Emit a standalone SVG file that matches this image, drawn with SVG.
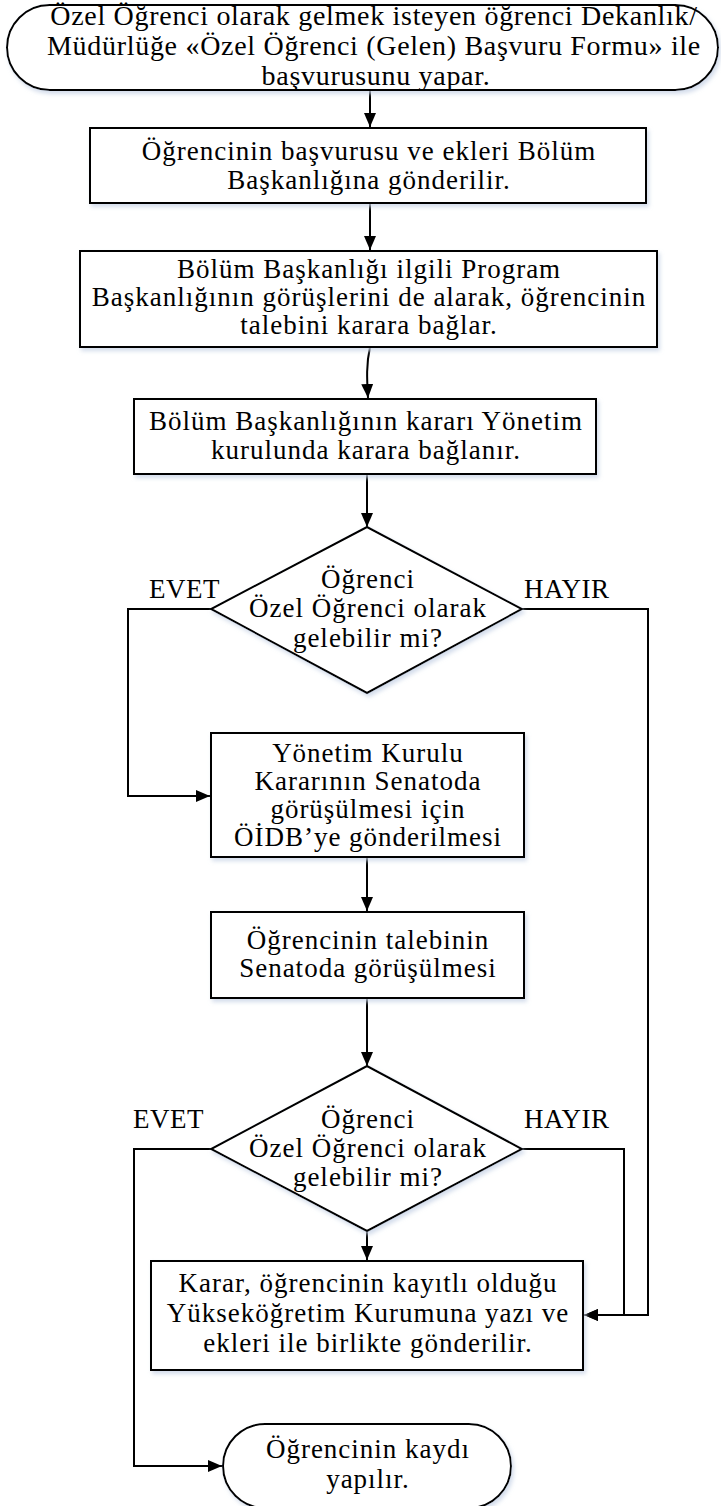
<svg xmlns="http://www.w3.org/2000/svg" width="721" height="1506" viewBox="0 0 721 1506">
<defs>
<style>
.s{fill:#fff;stroke:#000;stroke-width:2;filter:url(#sh)}
.c{fill:none;stroke:#000;stroke-width:2}
.t{font-family:"Liberation Serif","Times New Roman",serif;font-size:27px;letter-spacing:1px;fill:#000;text-anchor:middle}
.t1{font-size:28px;letter-spacing:0.7px}
.l{font-family:"Liberation Serif","Times New Roman",serif;font-size:27px;letter-spacing:0.5px;fill:#000}
</style>
<filter id="sh" x="-5%" y="-5%" width="110%" height="115%">
<feDropShadow dx="2" dy="3" stdDeviation="2" flood-color="#c8d4e6" flood-opacity="0.8"/>
</filter>
<marker id="ah" markerWidth="14" markerHeight="12" refX="14" refY="6" orient="auto" markerUnits="userSpaceOnUse">
<path d="M0,0 L14,6 L0,12 Z" fill="#000"/>
</marker>
</defs>
<rect width="721" height="1506" fill="#fff"/>
<g id="connectors">
<line class="c" x1="370" y1="90" x2="370" y2="127" marker-end="url(#ah)"/>
<line class="c" x1="370" y1="203" x2="370" y2="250" marker-end="url(#ah)"/>
<path class="c" d="M370 347 C366 365 367 380 368 398" marker-end="url(#ah)"/>
<line class="c" x1="367" y1="474" x2="367" y2="527" marker-end="url(#ah)"/>
<polyline class="c" points="211,609 128,609 128,796 210,796" marker-end="url(#ah)"/>
<polyline class="c" points="522,609 648,609 648,1315 584,1315" marker-end="url(#ah)"/>
<line class="c" x1="367" y1="857" x2="367" y2="911" marker-end="url(#ah)"/>
<line class="c" x1="367" y1="998" x2="367" y2="1066" marker-end="url(#ah)"/>
<polyline class="c" points="211,1149 134,1149 134,1466 222,1466" marker-end="url(#ah)"/>
<polyline class="c" points="522,1149 624,1149 624,1315 584,1315" marker-end="url(#ah)"/>
<line class="c" x1="367" y1="1231" x2="367" y2="1260" marker-end="url(#ah)"/>
</g>
<g id="n1">
<rect class="s" x="7" y="5" width="711" height="85" rx="42.5" ry="42.5"/>
<text class="t t1" x="374" y="25">Özel Öğrenci olarak gelmek isteyen öğrenci Dekanlık/</text>
<text class="t t1" x="374" y="55">Müdürlüğe «Özel Öğrenci (Gelen) Başvuru Formu» ile</text>
<text class="t t1" x="376" y="85">başvurusunu yapar.</text>
</g>
<g id="n2">
<rect class="s" x="90" y="128" width="556" height="75"/>
<text class="t" x="369" y="160">Öğrencinin başvurusu ve ekleri Bölüm</text>
<text class="t" x="369" y="189">Başkanlığına gönderilir.</text>
</g>
<g id="n3">
<rect class="s" x="80" y="251" width="577" height="96"/>
<text class="t" x="369" y="278">Bölüm Başkanlığı ilgili Program</text>
<text class="t" x="369" y="306">Başkanlığının görüşlerini de alarak, öğrencinin</text>
<text class="t" x="369" y="334">talebini karara bağlar.</text>
</g>
<g id="n4">
<rect class="s" x="134" y="399" width="462" height="75"/>
<text class="t" x="366" y="430">Bölüm Başkanlığının kararı Yönetim</text>
<text class="t" x="366" y="459">kurulunda karara bağlanır.</text>
</g>
<g id="n5">
<polygon class="s" points="367,527 522,609 367,693 211,609"/>
<text class="t" x="368" y="588">Öğrenci</text>
<text class="t" x="368" y="617">Özel Öğrenci olarak</text>
<text class="t" x="368" y="647">gelebilir mi?</text>
</g>
<text class="l" x="149" y="598">EVET</text>
<text class="l" x="524" y="598">HAYIR</text>
<g id="n6">
<rect class="s" x="211" y="733" width="313" height="124"/>
<text class="t" x="368" y="762">Yönetim Kurulu</text>
<text class="t" x="368" y="790">Kararının Senatoda</text>
<text class="t" x="368" y="818">görüşülmesi için</text>
<text class="t" x="368" y="846">ÖİDB’ye gönderilmesi</text>
</g>
<g id="n7">
<rect class="s" x="211" y="912" width="313" height="86"/>
<text class="t" x="368" y="949">Öğrencinin talebinin</text>
<text class="t" x="368" y="977">Senatoda görüşülmesi</text>
</g>
<g id="n8">
<polygon class="s" points="367,1066 522,1149 367,1231 211,1149"/>
<text class="t" x="368" y="1128">Öğrenci</text>
<text class="t" x="368" y="1157">Özel Öğrenci olarak</text>
<text class="t" x="368" y="1186">gelebilir mi?</text>
</g>
<text class="l" x="133" y="1128">EVET</text>
<text class="l" x="524" y="1128">HAYIR</text>
<g id="n9">
<rect class="s" x="151" y="1261" width="432" height="109"/>
<text class="t" x="368" y="1292">Karar, öğrencinin kayıtlı olduğu</text>
<text class="t" x="368" y="1322">Yükseköğretim Kurumuna yazı ve</text>
<text class="t" x="368" y="1352">ekleri ile birlikte gönderilir.</text>
</g>
<g id="n10">
<rect class="s" x="223" y="1424" width="288" height="84" rx="42" ry="42"/>
<text class="t" x="368" y="1458">Öğrencinin kaydı</text>
<text class="t" x="368" y="1488">yapılır.</text>
</g>
</svg>
